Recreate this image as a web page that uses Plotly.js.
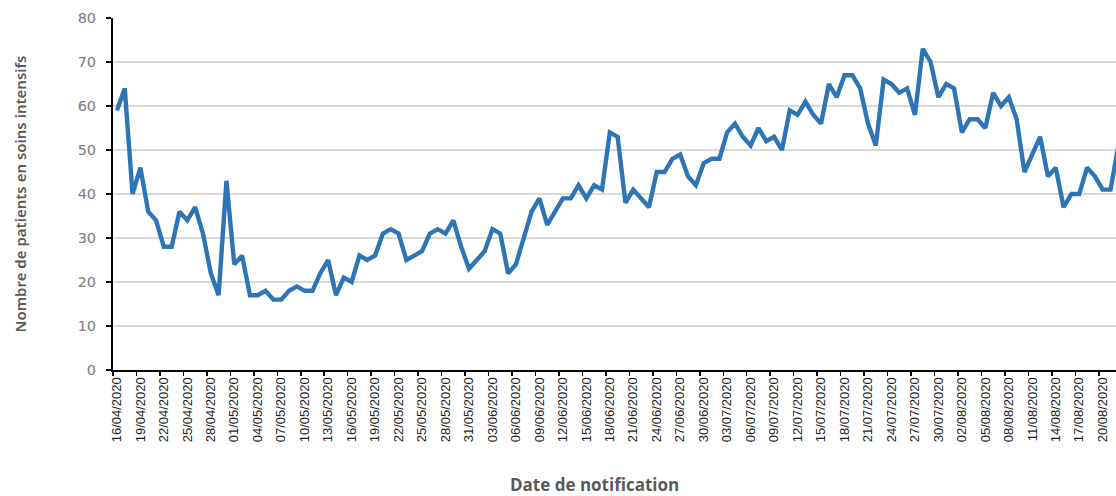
<!DOCTYPE html>
<html>
<head>
<meta charset="utf-8">
<script src="https://cdn.plot.ly/plotly-3.0.1.min.js"></script>
<style>html,body{margin:0;padding:0;background:#fff;}#chart{width:1116px;height:496px;}</style>
</head>
<body>
<div id="chart"></div>
<script>
// Categories: daily notification dates starting 16/04/2020
const startDate = [2020, 3, 16];
const patients = [
  59, 64, 40, 46, 36, 34, 28, 28, 36, 34, 37, 31, 22, 17, 43, 24, 26, 17, 17, 18,
  16, 16, 18, 19, 18, 18, 22, 25, 17, 21, 20, 26, 25, 26, 31, 32, 31, 25, 26, 27,
  31, 32, 31, 34, 28, 23, 25, 27, 32, 31, 22, 24, 30, 36, 39, 33, 36, 39, 39, 42,
  39, 42, 41, 54, 53, 38, 41, 39, 37, 45, 45, 48, 49, 44, 42, 47, 48, 48, 54, 56,
  53, 51, 55, 52, 53, 50, 59, 58, 61, 58, 56, 65, 62, 67, 67, 64, 56, 51, 66, 65,
  63, 64, 58, 73, 70, 62, 65, 64, 54, 57, 57, 55, 63, 60, 62, 57, 45, 49, 53, 44,
  46, 37, 40, 40, 46, 44, 41, 41, 51
];
const yTicks = [0, 10, 20, 30, 40, 50, 60, 70, 80];
const yTitle = "Nombre de patients en soins intensifs";
const xTitle = "Date de notification";

function pad(n){ return (n < 10 ? "0" : "") + n; }
const dates = [];
for (let i = 0; i < patients.length; i++) {
  const d = new Date(Date.UTC(startDate[0], startDate[1], startDate[2] + i));
  dates.push(pad(d.getUTCDate()) + "/" + pad(d.getUTCMonth() + 1) + "/" + d.getUTCFullYear());
}
const labelIdx = dates.map((_, i) => i).filter(i => i % 3 === 0 && i <= 126);
const tickDates = labelIdx.map(i => dates[i]);
// tick marks sit between categories (Excel style), before each labelled day
const tickMarks = labelIdx.map(i => i - 0.5).concat([labelIdx[labelIdx.length - 1] + 2.5]);

const xRange = [-0.5, 127.7];

const trace = {
  x: dates,
  y: patients,
  type: "scatter",
  mode: "lines",
  line: {color: "#2E75B6", width: 4.4},
  hoverinfo: "x+y"
};
// helper trace so the tick-mark axis is drawn
const tickHelper = {
  x: [0], y: [null], xaxis: "x2", yaxis: "y",
  type: "scatter", mode: "lines", hoverinfo: "skip", showlegend: false
};

const layout = {
  width: 1116,
  height: 496,
  margin: {l: 113, r: 0, t: 18, b: 126},
  paper_bgcolor: "#ffffff",
  plot_bgcolor: "#ffffff",
  showlegend: false,
  xaxis: {
    type: "category",
    range: xRange,
    tickmode: "array",
    tickvals: tickDates,
    ticktext: tickDates,
    tickangle: -90,
    tickfont: {family: "Liberation Sans, Arial, sans-serif", size: 13, color: "#1e1e1e"},
    ticks: "",
    showline: true,
    linecolor: "#000",
    linewidth: 2,
    showgrid: false,
    zeroline: false,
    automargin: false
  },
  xaxis2: {
    overlaying: "x",
    anchor: "y",
    side: "bottom",
    type: "linear",
    range: xRange,
    tickmode: "array",
    tickvals: tickMarks,
    showticklabels: false,
    ticks: "outside",
    ticklen: 5,
    tickcolor: "#000",
    tickwidth: 1.5,
    showline: false,
    showgrid: false,
    zeroline: false,
    automargin: false
  },
  yaxis: {
    range: [0, 80],
    tickmode: "array",
    tickvals: yTicks,
    ticktext: yTicks.map(String),
    tickfont: {family: "DejaVu Sans, Verdana, sans-serif", size: 14.5, color: "#7a7a7a"},
    ticks: "outside",
    ticklen: 5,
    tickcolor: "#000",
    tickwidth: 1.5,
    ticklabelstandoff: 7,
    showline: true,
    linecolor: "#000",
    linewidth: 2,
    showgrid: true,
    gridcolor: "#d9d9d9",
    gridwidth: 1.5,
    zeroline: false,
    automargin: false,
    title: {text: yTitle, standoff: 47,
      font: {family: "Noto Sans, Open Sans, sans-serif", size: 15, color: "#595959", weight: 600}}
  },
  annotations: [{
    text: xTitle,
    xref: "paper", yref: "paper",
    x: 0.4796, y: -0.3239,
    xanchor: "center", yanchor: "middle",
    showarrow: false,
    font: {family: "Open Sans, Noto Sans, sans-serif", size: 17, color: "#595959", weight: 700}
  }]
};

Plotly.newPlot("chart", [trace, tickHelper], layout, {displayModeBar: false, staticPlot: true});
</script>
</body>
</html>
